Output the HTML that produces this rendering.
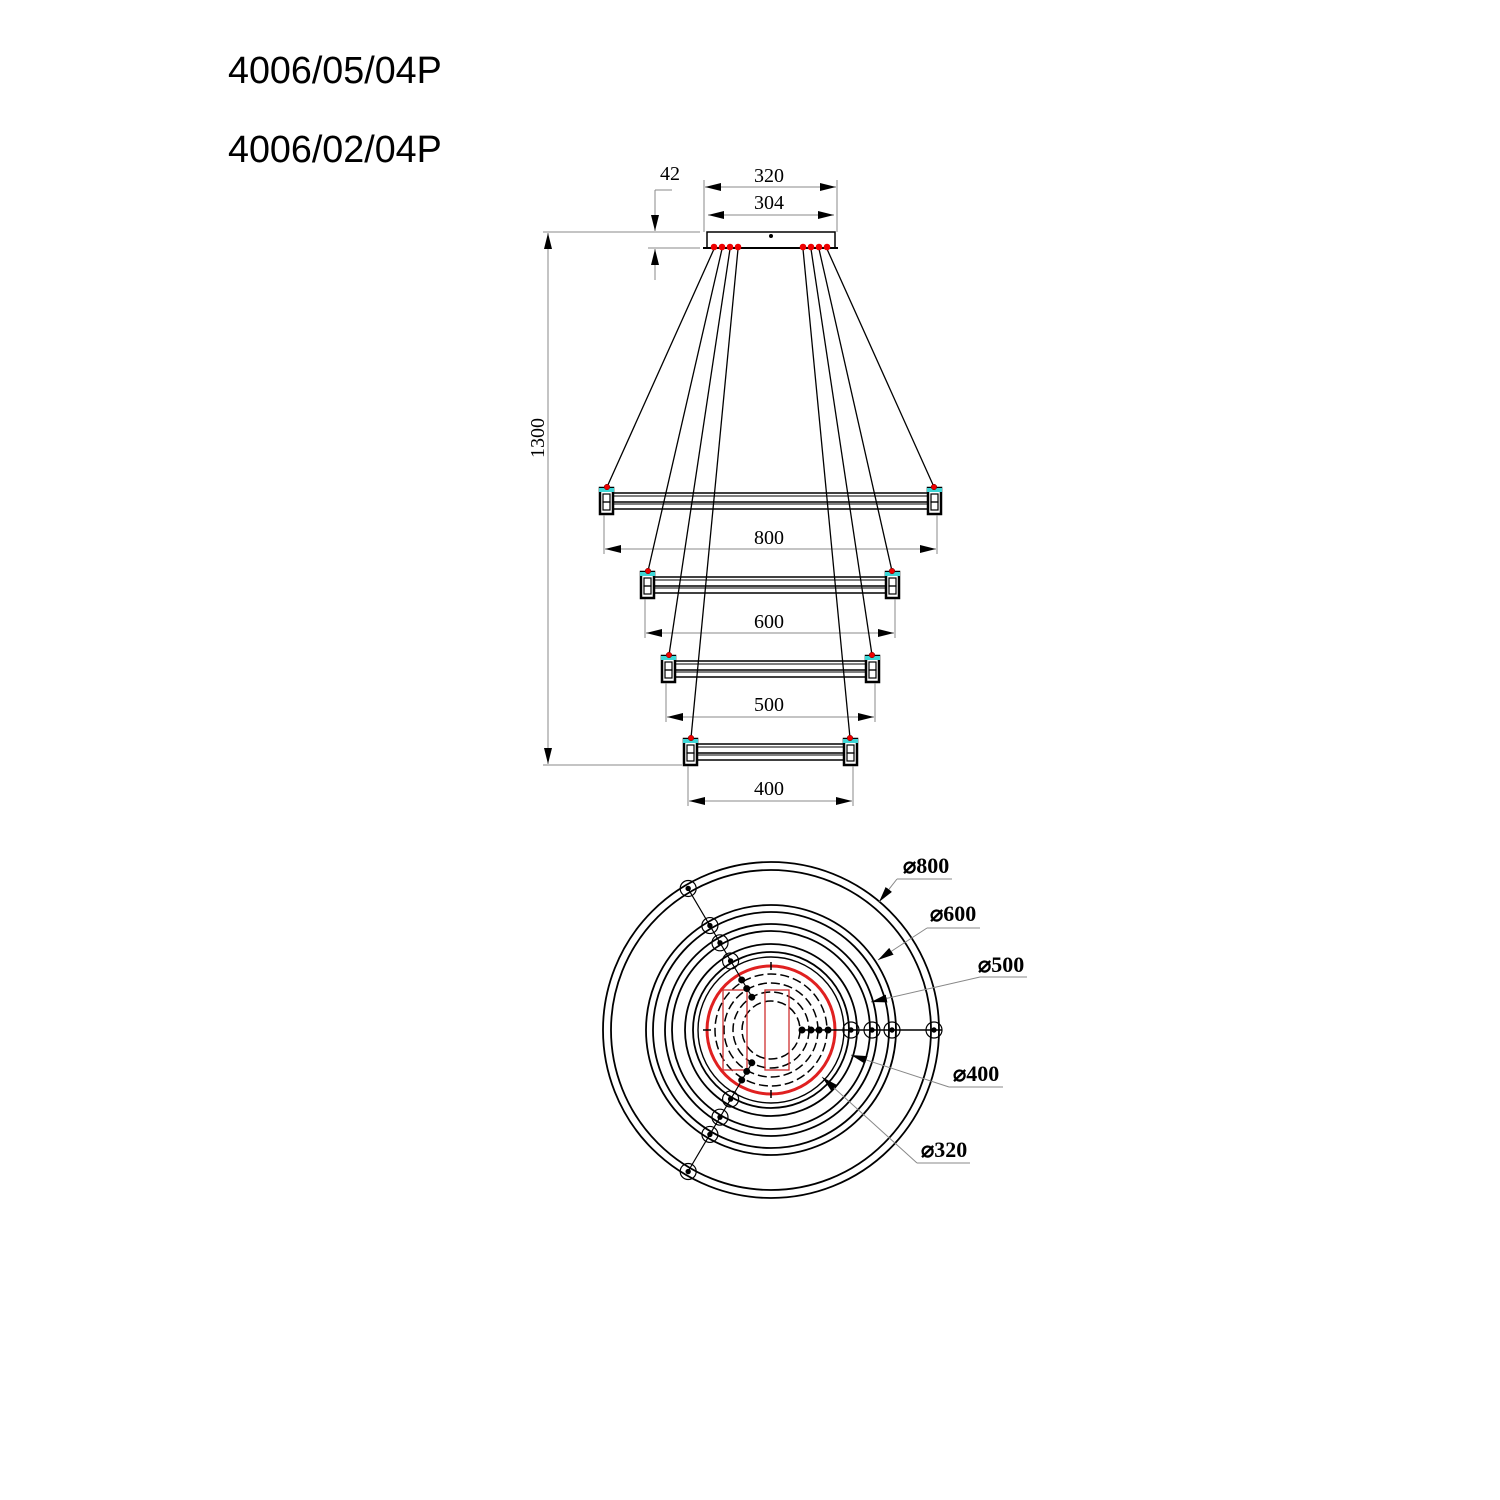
<!DOCTYPE html>
<html><head><meta charset="utf-8"><style>
html,body{margin:0;padding:0;background:#fff;}
svg{display:block}
.t{font-family:"Liberation Sans",sans-serif;font-size:37.7px;fill:#000}
.d{font-family:"Liberation Serif",serif;font-size:20px;fill:#000}
.b{font-family:"Liberation Serif",serif;font-size:22px;font-weight:bold;fill:#000}
</style></head><body>
<svg id="s" width="1500" height="1500" viewBox="0 0 1500 1500" xmlns="http://www.w3.org/2000/svg">
<defs>
<marker id="L" viewBox="0 0 16 8" refX="16" refY="4" markerWidth="16" markerHeight="8" orient="auto-start-reverse" markerUnits="userSpaceOnUse"><path d="M0,0L16,4L0,8z" fill="#000"/></marker>
</defs>
<text class="t" x="228" y="83">4006/05/04P</text>
<text class="t" x="228" y="162">4006/02/04P</text>

<text class="d" x="660" y="180">42</text>
<text class="d" x="754" y="182">320</text>
<text class="d" x="754" y="209">304</text>
<text class="d" x="544" y="438" transform="rotate(-90 544 438)" text-anchor="middle">1300</text>
<text class="d" x="754" y="544">800</text>
<text class="d" x="754" y="628">600</text>
<text class="d" x="754" y="711">500</text>
<text class="d" x="754" y="795">400</text>

<text class="b" x="903" y="873">⌀800</text>
<text class="b" x="930" y="921">⌀600</text>
<text class="b" x="978" y="972">⌀500</text>
<text class="b" x="953" y="1081">⌀400</text>
<text class="b" x="921" y="1157">⌀320</text>
<g id="g" fill="none" stroke="#000"></g>
</svg>
<script>
var g=document.getElementById('g'),h='';
function L(x1,y1,x2,y2,w,c,ex){h+='<line x1="'+x1+'" y1="'+y1+'" x2="'+x2+'" y2="'+y2+'" stroke-width="'+(w||1)+'" stroke="'+(c||'#000')+'" '+(ex||'')+'/>';}
function C(x,y,r,w,c,ex){h+='<circle cx="'+x+'" cy="'+y+'" r="'+r+'" stroke-width="'+(w||1)+'" stroke="'+(c||'#000')+'" '+(ex||'')+'/>';}
function R(x,y,w,hh,sw,c,f){h+='<rect x="'+x+'" y="'+y+'" width="'+w+'" height="'+hh+'" stroke-width="'+(sw||1)+'" stroke="'+(c||'#000')+'" fill="'+(f||'none')+'"/>';}
var gr='#888';
var M='marker-start="url(#L)" marker-end="url(#L)"';
R(707,232,128,16,1.5);
L(703,248,838,248,2);
h+='<circle cx="771" cy="236" r="1.5" fill="#000"/>';
L(704,180,704,232,1,gr);L(837,180,837,232,1,gr);
L(705,187,836,187,1,gr,M);
L(708,215,834,215,1,gr,M);
L(640,232,700,232,1,gr);L(648,248,700,248,1,gr);
L(655,190,672,190,1,gr);
L(655,190,655,231,1,gr,'marker-end="url(#L)"');
L(655,280,655,249,1,gr,'marker-end="url(#L)"');
L(543,232,700,232,1,gr);L(543,765,682,765,1,gr);
L(548,233,548,764,1,gr,M);
var rings=[[600,941,488,549],[641,899,572,633],[662,879,656,717],[684,857,739,801]];
var topL=[714,722,730,738],topR=[827,819,811,803];
rings.forEach(function(r,i){
 var x1=r[0],x2=r[1],y=r[2];
 L(x1+13,y+5,x2-13,y+5,1.5);L(x1+13,y+8,x2-13,y+8,1);
 L(x1+13,y+14,x2-13,y+14,1.5);L(x1+13,y+16,x2-13,y+16,1);L(x1+13,y+21,x2-13,y+21,1.5);
 [x1,x2-13].forEach(function(x){
  R(x,y,13,26,2.5);R(x+3,y+6,7,8,1.2);R(x+3,y+14,7,8,1.2);
  h+='<rect x="'+(x-1)+'" y="'+y+'" width="15" height="4" fill="#3dd6d6" stroke="none"/>';
 });
 L(topL[i],249,x1+7,y-1,1.3);L(topR[i],249,x2-7,y-1,1.3);
 h+='<circle cx="'+(x1+7)+'" cy="'+(y-1)+'" r="2.8" fill="#e00" stroke="#600" stroke-width="0.5"/>';
 h+='<circle cx="'+(x2-7)+'" cy="'+(y-1)+'" r="2.8" fill="#e00" stroke="#600" stroke-width="0.5"/>';
 var dy=r[3];
 L(x1+4,y+27,x1+4,dy+5,1,gr);L(x2-4,y+27,x2-4,dy+5,1,gr);
 L(x1+5,dy,x2-5,dy,1,gr,M);
});
topL.concat(topR).forEach(function(x){h+='<circle cx="'+x+'" cy="247" r="3.3" fill="#e00" stroke="none"/>';});
var cx=771,cy=1030;
[168,160,125,118,106,99,86,78].forEach(function(r){C(cx,cy,r,1.8);});
[73].forEach(function(r){C(cx,cy,r,1.4);});
C(cx,cy,64,3,'#e02020');
[56,47,38,29].forEach(function(r){C(cx,cy,r,1.5,'#000','stroke-dasharray="9 4"');});
R(723,990,24,80,1.3,'#d03030');R(765,990,24,80,1.3,'#d03030');
L(cx,962,cx,970,1.5);L(cx,1090,cx,1098,1.5);L(703,cy,711,cy,1.5);
var dx=-0.505,dyy=0.863;
L(688,888.5,752,997,1.2);L(688,1171.5,752,1063,1.2);
[164,121,101,80].forEach(function(r){
 [-1,1].forEach(function(s){var x=cx+dx*r,y=cy+s*dyy*r;C(x,y,8,1.2);h+='<circle cx="'+x+'" cy="'+y+'" r="2.2" fill="#000"/>';});
});
[58,48,38].forEach(function(r){[-1,1].forEach(function(s){h+='<circle cx="'+(cx+dx*r)+'" cy="'+(cy+s*dyy*r)+'" r="3" fill="#000"/>';});});
L(802,cy,942,cy,1.5);
[802,811,819,828].forEach(function(x){h+='<circle cx="'+x+'" cy="'+cy+'" r="3" fill="#000"/>';});
[851,872,892,934].forEach(function(x){C(x,cy,8,1.2);h+='<circle cx="'+x+'" cy="'+cy+'" r="2.2" fill="#000"/>';});
function ld(ux1,ux2,uy,tx,ty){L(ux1,uy,ux2,uy,1,gr);L(ux1,uy,tx,ty,1,gr,'marker-end="url(#L)"');}
ld(897,952,879,879,902);
ld(927,980,928,878,960);
ld(980,1027,977,871,1002);
ld(949,1003,1087,851,1055);
ld(917,970,1163,822,1077);
g.innerHTML=h;
</script>
</body></html>
